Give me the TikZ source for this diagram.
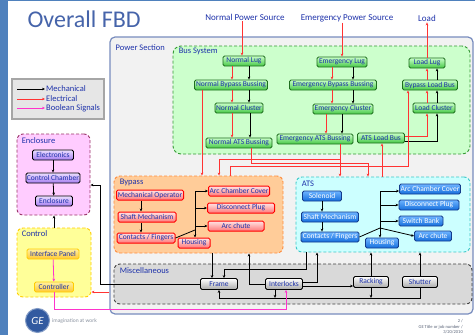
\documentclass[tikz,border=0pt]{standalone}
\usepackage{fontspec}
\setmainfont{Carlito}
\usepackage{xcolor}
\usetikzlibrary{arrows.meta}
\definecolor{barblue}{RGB}{79,129,189}
\definecolor{titleblue}{RGB}{70,100,170}
\definecolor{nodeblue}{RGB}{30,50,170}
\definecolor{psline}{RGB}{120,140,190}
\definecolor{psfill}{RGB}{242,242,242}
\definecolor{busfill}{RGB}{204,255,204}
\definecolor{busline}{RGB}{51,153,51}
\definecolor{bypfill}{RGB}{255,204,153}
\definecolor{bypline}{RGB}{255,140,60}
\definecolor{atsfill}{RGB}{204,255,255}
\definecolor{atsline}{RGB}{60,200,200}
\definecolor{misfill}{RGB}{217,217,217}
\definecolor{misline}{RGB}{64,64,64}
\definecolor{encfill}{RGB}{255,204,255}
\definecolor{encline}{RGB}{153,51,102}
\definecolor{ctlfill}{RGB}{255,255,153}
\definecolor{ctlline}{RGB}{255,204,0}
\definecolor{lgfill}{RGB}{230,230,230}
\definecolor{lgline}{RGB}{166,166,166}
\definecolor{elred}{RGB}{255,51,51}
\definecolor{sgpink}{RGB}{255,51,204}
\definecolor{geblue}{RGB}{50,90,160}
\definecolor{footgray}{RGB}{90,100,120}
\tikzset{
    >={Stealth[length=3pt,width=2.6pt]},
    TX/.style ={font=\fontsize{7.5}{8}\selectfont, text=nodeblue},
    BOX/.style ={TX, rectangle, rounded corners=1.5pt, minimum height=10pt, inner xsep=1pt, inner ysep=0.5pt, line width=0.8pt},
    BS1/.style ={BOX, draw={rgb,255:red,30;green,110;blue,30}, top color={rgb,255:red,200;green,255;blue,200}, bottom color={rgb,255:red,70;green,200;blue,70}, minimum width=#1},
    BP1/.style ={BOX, draw=red, line width=1pt, top color={rgb,255:red,255;green,228;blue,228}, bottom color={rgb,255:red,255;green,120;blue,120}, minimum width=#1},
    AT1/.style ={BOX, text=white, draw={rgb,255:red,20;green,60;blue,140}, top color={rgb,255:red,110;green,180;blue,255}, bottom color={rgb,255:red,20;green,110;blue,220}, minimum width=#1},
    MS1/.style ={BOX, minimum height=11pt, draw=black, top color=white, bottom color={rgb,255:red,170;green,170;blue,170}, minimum width=#1},
    EN1/.style ={BOX, draw=black, top color={rgb,255:red,235;green,222;blue,255}, bottom color={rgb,255:red,165;green,125;blue,240}, minimum width=#1},
    CT1/.style ={BOX, draw=ctlline, top color={rgb,255:red,255;green,240;blue,160}, bottom color={rgb,255:red,255;green,200;blue,50}, minimum width=#1},
    GRP/.style ={rectangle, inner sep=0pt, rounded corners=6pt, dash pattern=on 3pt off 2pt, line width=0.9pt},
    GL/.style ={font=\fontsize{8.5}{9}\selectfont, text=nodeblue, anchor=north west, inner sep=1pt},
    LG/.style ={font=\fontsize{8.5}{9}\selectfont, text=nodeblue, inner sep=1pt},
    SRC/.style ={font=\fontsize{9}{10}\selectfont, text=nodeblue, inner sep=1pt},
    FT/.style ={font=\fontsize{4.5}{5}\selectfont, text=footgray, inner sep=0pt, anchor=east},
    ME/.style ={draw=black, line width=0.8pt},
    EL/.style ={draw=elred, line width=0.8pt},
    SG/.style ={draw=sgpink, line width=0.8pt}
}
\begin{document}
\begin{tikzpicture}[x=1pt,y=-1pt]
    \useasboundingbox (0,0) rectangle (475,335);
    \fill[white] (0,0) rectangle (475,335);
    \fill[barblue] (0,0) rectangle (8,335);
    \fill[barblue] (0,0) rectangle (475,1.2);
    \node[anchor=west, font=\fontsize{24}{26}\selectfont, text=titleblue] (title) at (24,19) {Overall FBD};

    % legend
    \node[GRP, solid, rounded corners=0pt, draw=lgline, fill=lgfill, line width=1.2pt, minimum width=92pt, minimum height=40pt] (legend) at (58,99) {};
    \node[LG, anchor=west] (lgm) at (45,89) {Mechanical};
    \node[LG, anchor=west] (lge) at (45,99) {Electrical};
    \node[LG, anchor=west] (lgs) at (45,108) {Boolean Signals};
    \draw[ME,->] ([xshift=-28pt]lgm.west) -- (lgm.west);
    \draw[EL,->] ([xshift=-28pt]lge.west) -- (lge.west);
    \draw[SG,->] ([xshift=-28pt]lgs.west) -- (lgs.west);

    % groups
    \node[GRP, solid, draw=psline, fill=psfill, line width=1.2pt, rounded corners=5pt, minimum width=363pt, minimum height=277pt] (power) at (291.5,175.5) {};
    \node[GL] (powerl) at ([xshift=5pt,yshift=-7pt]power.north west) {Power Section};
    \node[GRP, draw=busline, fill=busfill, rounded corners=8pt, minimum width=297pt, minimum height=108pt] (bus) at (321.5,100) {};
    \node[GL] (busl) at ([xshift=5pt,yshift=-1pt]bus.north west) {Bus System};
    \node[GRP, draw=bypline, fill=bypfill, minimum width=169pt, minimum height=77pt] (bypass) at (198.5,214.5) {};
    \node[GL] (bypassl) at ([xshift=5pt,yshift=-2pt]bypass.north west) {Bypass};
    \node[GRP, draw=atsline, fill=atsfill, minimum width=174pt, minimum height=75pt] (ats) at (383,214.5) {};
    \node[GL] (atsl) at ([xshift=5pt,yshift=-3pt]ats.north west) {ATS};
    \node[GRP, draw=misline, fill=misfill, minimum width=358pt, minimum height=40pt] (misc) at (293,284) {};
    \node[GL] (miscl) at ([xshift=5pt,yshift=-3pt]misc.north west) {Miscellaneous};
    \node[GRP, draw=encline, fill=encfill, minimum width=73pt, minimum height=81pt] (encl) at (53.5,174.5) {};
    \node[GL] (encll) at ([xshift=4pt,yshift=-3pt]encl.north west) {Enclosure};
    \node[GRP, draw=ctlline, fill=ctlfill, minimum width=74pt, minimum height=69pt] (ctrl) at (54,262.5) {};
    \node[GL] (ctrll) at ([xshift=4pt,yshift=-2pt]ctrl.north west) {Control};

    % sources
    \node[SRC] (nps) at (245,17) {Normal Power Source};
    \node[SRC] (eps) at (347,18) {Emergency Power Source};
    \node[SRC] (ldt) at (427,18) {Load};

    % bus system
    \node[BS1=42pt] (nlug) at (244,61) {Normal Lug};
    \node[BS1=73pt] (nbyp) at (231,85) {Normal Bypass Bussing};
    \node[BS1=48pt] (nclu) at (239,108) {Normal Cluster};
    \node[BS1=66pt] (nats) at (239,143) {Normal ATS Bussing};
    \node[BS1=50pt] (elug) at (342,62) {Emergency Lug};
    \node[BS1=87pt] (ebyp) at (333,85) {Emergency Bypass Bussing};
    \node[BS1=60pt] (eclu) at (343,109) {Emergency Cluster};
    \node[BS1=76pt] (eats) at (315,139) {Emergency ATS Bussing};
    \node[BS1=47pt] (albus) at (381,138) {ATS Load Bus};
    \node[BS1=36pt] (llug) at (427,63) {Load Lug};
    \node[BS1=55pt] (blbus) at (430,85) {Bypass Load Bus};
    \node[BS1=42pt] (lclu) at (434,108) {Load Cluster};

    % bypass
    \node[BP1=67pt] (mop) at (150,195) {Mechanical Operator};
    \node[BP1=58pt] (bsm) at (147,217) {Shaft Mechanism};
    \node[BP1=58pt] (bcf) at (146,238) {Contacts / Fingers};
    \node[BP1=32pt] (bhs) at (194,243) {Housing};
    \node[BP1=61pt] (bacc) at (239,191) {Arc Chamber Cover};
    \node[BP1=67pt] (bdp) at (241,208) {Disconnect Plug};
    \node[BP1=56pt] (bac) at (236,226) {Arc chute};

    % ats
    \node[AT1=39pt] (sol) at (322,196) {Solenoid};
    \node[AT1=57pt] (asm) at (330,217) {Shaft Mechanism};
    \node[AT1=58pt] (acf) at (330,237) {Contacts / Fingers};
    \node[AT1=33pt] (ahs) at (382,243) {Housing};
    \node[AT1=61pt] (aacc) at (430,189) {Arc Chamber Cover};
    \node[AT1=60pt] (adp) at (429,205) {Disconnect Plug};
    \node[AT1=44pt] (asb) at (421,221) {Switch Bank};
    \node[AT1=37pt] (aac) at (433,236) {Arc chute};

    % miscellaneous
    \node[MS1=37pt] (frame) at (219,284) {Frame};
    \node[MS1=37pt] (intl) at (284,284) {Interlocks};
    \node[MS1=35pt] (rack) at (371,282) {Racking};
    \node[MS1=35pt] (shut) at (420,282) {Shutter};

    % enclosure and control
    \node[EN1=41pt] (elec) at (53,155) {Electronics};
    \node[EN1=54pt] (cch) at (53,178) {Control Chamber};
    \node[EN1=37pt] (encn) at (54,201) {Enclosure};
    \node[CT1=52pt] (ipan) at (53,254) {Interface Panel};
    \node[CT1=39pt] (ctrlr) at (54,287) {Controller};

    % bus system connectors
    \draw[EL,->] ([xshift=-3pt]nps.south) -- ([xshift=-3pt]nps.south |- nlug.north);
    \draw[EL,->] (eps.south -| elug.north) -- (elug.north);
    \draw[EL,->] (llug.north) -- (llug.north |- ldt.south);
    \draw[EL,->] ([xshift=-12pt]nlug.south) -- ([xshift=-12pt]nlug.south |- nbyp.north);
    \draw[ME,->] ([xshift=5pt]nlug.south) -- ([xshift=5pt]nlug.south |- nbyp.north);
    \draw[EL,->] ([xshift=1pt]nbyp.south) -- ([xshift=1pt]nbyp.south |- nclu.north);
    \draw[ME,->] ([xshift=18pt]nbyp.south) -- ([xshift=18pt]nbyp.south |- nclu.north);
    \draw[EL,->] ([xshift=-7pt]nclu.south) -- ([xshift=-7pt]nclu.south |- nats.north);
    \draw[ME,->] ([xshift=11pt]nclu.south) -- ([xshift=11pt]nclu.south |- nats.north);
    \draw[EL,->] ([xshift=-10pt]elug.south) -- ([xshift=-10pt]elug.south |- ebyp.north);
    \draw[ME,->] ([xshift=11pt]elug.south) -- ([xshift=11pt]elug.south |- ebyp.north);
    \draw[EL,->] ([xshift=-1pt]ebyp.south) -- ([xshift=-1pt]ebyp.south |- eclu.north);
    \draw[ME,->] ([xshift=20pt]ebyp.south) -- ([xshift=20pt]ebyp.south |- eclu.north);
    \draw[EL,->] ([xshift=-17pt]eclu.south) -- ([xshift=-17pt]eclu.south |- eats.north);
    \draw[ME,->] ([xshift=-1pt]eclu.south) -- ([xshift=-1pt]eclu.south |- eats.north);
    \draw[EL,->] ([xshift=-3pt]blbus.north) -- ([xshift=-3pt]blbus.north |- llug.south);
    \draw[ME,->] ([xshift=7pt]blbus.north) -- ([xshift=7pt]blbus.north |- llug.south);
    \draw[EL,->] ([xshift=-7pt]lclu.north) -- ([xshift=-7pt]lclu.north |- blbus.south);
    \draw[ME,->] ([xshift=3pt]lclu.north) -- ([xshift=3pt]lclu.north |- blbus.south);
    \draw[EL,->] ([yshift=2pt]albus.east) -| ([xshift=-7pt]lclu.south);
    \draw[ME,->] ([yshift=-3pt]albus.east) -| ([xshift=3pt]lclu.south);

    % feeds between bus system, bypass and ats
    \draw[EL,->] ([xshift=-29pt]nbyp.south) -- ([xshift=-29pt]nbyp.south |- bypass.north);
    \draw[EL,->] ([xshift=25pt]eats.south) -- ([xshift=25pt]eats.south |- ats.north);
    \draw[EL,->] ([xshift=25pt,yshift=-15pt]eats.south) -| ([xshift=20.5pt]bypass.north);
    \draw[EL,->] ([xshift=12pt]nats.south) -- ++(0,15) -| ([xshift=-15pt]ats.north);
    \draw[EL,->] ([xshift=31.5pt]bypass.north) -- ++(0,-9) -| ([xshift=-22pt]blbus.south);
    \draw[EL,->] ([xshift=-1pt]ats.north) -- ([xshift=-1pt]ats.north |- albus.south);

    % bypass connectors
    \coordinate (bsp) at (195,191);
    \coordinate (bjn) at (195,230);
    \draw[ME,->] ([xshift=-9pt]mop.south) -- ([xshift=-9pt]mop.south |- bsm.north);
    \draw[ME,->] ([xshift=-6pt]bsm.south) -- ([xshift=-6pt]bsm.south |- bcf.north);
    \draw[ME,->] (bsp) -- (bsp |- bhs.north);
    \draw[ME,->] (bsp) -- (bsp -| bacc.west);
    \draw[ME,->] (bsp |- bdp.west) -- (bdp.west);
    \draw[ME,->] (bsp |- bac.west) -- (bac.west);
    \draw[ME] (bcf.east) -- (bjn);

    % ats connectors
    \coordinate (asp) at (380,191);
    \coordinate (ajn) at (380,228);
    \draw[ME,->] (sol.south) -- (sol.south |- asm.north);
    \draw[ME,->] ([xshift=-8pt]asm.south) -- ([xshift=-8pt]asm.south |- acf.north);
    \draw[ME,->] (asp) -- (asp |- ahs.north);
    \draw[ME,->] (asp) -- (asp -| aacc.west);
    \draw[ME,->] (asp |- adp.west) -- (adp.west);
    \draw[ME,->] (asp |- asb.west) -- (asb.west);
    \draw[ME,->] (ajn) -- (aac.west);
    \draw[ME] (acf.east) -- (ajn);

    % miscellaneous connectors
    \coordinate (bln) at ([yshift=-10pt]shut.south);
    \draw[ME,->] ([xshift=13.5pt]bypass.south) -- ([xshift=13.5pt]bypass.south |- frame.north);
    \draw[ME,->] (intl.west) -| ([xshift=50.5pt]bypass.south);
    \draw[ME,->] ([xshift=-77pt]ats.south) -- ++(0,17) -| ([xshift=5pt]frame.north);
    \draw[ME,->] ([yshift=2pt]intl.east) -| ([xshift=-66pt]ats.south);
    \draw[ME,->] ([yshift=-2pt]intl.east) -- ([yshift=-2pt]intl.east -| rack.west);
    \draw[ME,->] (rack.north) -- (rack.north |- ats.south);
    \draw[ME,->] (shut.north) -- (shut.north |- ats.south);
    \draw[ME,->] (shut.south) -- (bln) -| (frame.south);
    \draw[ME,->] ([xshift=-9pt]intl.south) -- ([xshift=-9pt]intl.south |- bln);
    \draw[ME,->] (rack.south) -- (rack.south |- bln);
    \draw[ME,->] (frame.west) -- ++(-100,0) |- ([yshift=-10.5pt]encl.east);

    % enclosure and control connectors
    \draw[EL,->] ([yshift=-116.5pt]power.west) -- ([yshift=-116.5pt]power.west -| ctrl.east);
    \draw[ME,->] (ctrl.north) -- (ctrl.north |- encl.south);
    \draw[ME,->] (elec) -- (cch);
    \draw[ME,->] (cch) -- (encn);
    \draw[SG,->] (ipan) -- (ctrlr);
    \draw[SG,->] (ctrlr.south) -- ++(0,17) -| ([xshift=2pt]intl.south);

    % footer
    \node[circle, fill=geblue, draw=geblue!60, line width=1pt, minimum size=24pt, inner sep=0pt, text=white, font=\fontsize{11}{12}\selectfont\itshape] (ge) at (37.5,320.5) {GE};
    \node[anchor=west, inner sep=0pt, text=footgray!70, font=\fontsize{5.5}{6}\selectfont] (gework) at (52,321) {imagination at work};
    \node[FT] (pgno) at (463,321) {2 /};
    \node[FT] (pgtitle) at (463,327) {GE Title or job number /};
    \node[FT] (pgdate) at (463,332.5) {3/20/2010};
\end{tikzpicture}
\end{document}
